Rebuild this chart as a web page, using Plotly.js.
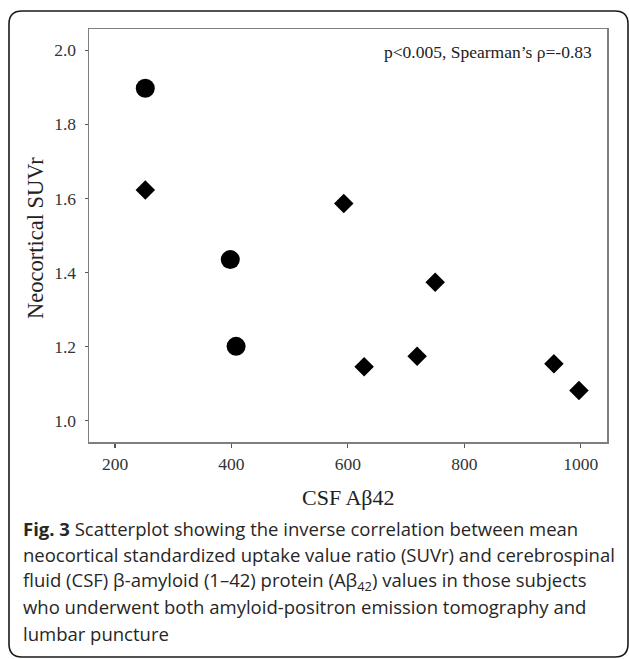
<!DOCTYPE html>
<html>
<head>
<meta charset="utf-8">
<script src="https://cdn.plot.ly/plotly-3.0.1.min.js"></script>
<style>
  html, body { margin: 0; padding: 0; background: #ffffff; }
  #chart { width: 629px; height: 659px; }
</style>
</head>
<body>
<div id="chart"></div>
<script>
// ---- data ----
const circleX = [252, 398, 408];
const circleY = [1.897, 1.435, 1.201];
const diamondX = [252, 593, 628, 719, 750, 954, 997];
const diamondY = [1.623, 1.586, 1.146, 1.174, 1.374, 1.154, 1.082];
const xTicks = [200, 400, 600, 800, 1000];
const yTicks = [1.0, 1.2, 1.4, 1.6, 1.8, 2.0];
const statText = "p<0.005, Spearman’s ρ=-0.83";
const xTitle = "CSF Aβ42";
const yTitle = "Neocortical SUVr";
const captionLines = [
  "<b>Fig. 3</b> Scatterplot showing the inverse correlation between mean",
  "neocortical standardized uptake value ratio (SUVr) and cerebrospinal",
  "fluid (CSF) β-amyloid (1–42) protein (Aβ<sub>42</sub>) values in those subjects",
  "who underwent both amyloid-positron emission tomography and",
  "lumbar puncture"
];

// ---- geometry ----
const W = 629, H = 659;
const L = 89, R = 607, T = 29, B = 442;
const pw = R - L, ph = B - T;
const px = x => (x - L) / pw;
const py = y => (B - y) / ph;

const serif = "Liberation Serif, Times New Roman, serif";
const sans = "Open Sans, Noto Sans, sans-serif";

const traces = [
  { type: 'scatter', mode: 'markers', x: circleX, y: circleY,
    marker: { symbol: 'circle', size: 19, color: '#000000' }, hoverinfo: 'x+y' },
  { type: 'scatter', mode: 'markers', x: diamondX, y: diamondY,
    marker: { symbol: 'diamond', size: 15, color: '#000000' }, hoverinfo: 'x+y' }
];

// rounded outer frame
function roundedPath(x0, y0, x1, y1, r) {
  const X = v => px(v), Y = v => py(v);
  return `M ${X(x0 + r)} ${Y(y0)} L ${X(x1 - r)} ${Y(y0)} Q ${X(x1)} ${Y(y0)} ${X(x1)} ${Y(y0 + r)} ` +
         `L ${X(x1)} ${Y(y1 - r)} Q ${X(x1)} ${Y(y1)} ${X(x1 - r)} ${Y(y1)} ` +
         `L ${X(x0 + r)} ${Y(y1)} Q ${X(x0)} ${Y(y1)} ${X(x0)} ${Y(y1 - r)} ` +
         `L ${X(x0)} ${Y(y0 + r)} Q ${X(x0)} ${Y(y0)} ${X(x0 + r)} ${Y(y0)} Z`;
}

const annotations = [
  { xref: 'paper', yref: 'paper', x: px(594), y: py(52), xanchor: 'right', yanchor: 'middle',
    text: statText, showarrow: false, font: { family: serif, size: 17.5, color: '#222222' } },
  { xref: 'paper', yref: 'paper', x: px(348), y: py(497), xanchor: 'center', yanchor: 'middle',
    text: xTitle, showarrow: false, font: { family: serif, size: 22, color: '#222222' } },
  { xref: 'paper', yref: 'paper', x: px(36), y: py(238), xanchor: 'center', yanchor: 'middle',
    text: yTitle, textangle: -90, showarrow: false, font: { family: serif, size: 22.5, color: '#222222' } }
];
const capTop = 528, capStep = 26.3;
captionLines.forEach((t, i) => {
  annotations.push({ xref: 'paper', yref: 'paper', x: px(21), y: py(capTop + i * capStep),
    xanchor: 'left', yanchor: 'middle', text: t, showarrow: false, align: 'left',
    font: { family: sans, size: 18.5, color: '#262626' } });
});

const layout = {
  width: W, height: H,
  margin: { l: L, r: W - R, t: T, b: H - B, pad: 0 },
  paper_bgcolor: '#ffffff', plot_bgcolor: '#ffffff',
  showlegend: false,
  xaxis: {
    range: [155.3, 1045.2], tickvals: xTicks, ticktext: xTicks.map(String),
    showgrid: false, zeroline: false, showline: true, mirror: true,
    linecolor: '#7f7f7f', linewidth: 1.5, ticks: 'outside', ticklen: 4, tickwidth: 1.2,
    tickcolor: '#555555', tickfont: { family: serif, size: 17.5, color: '#333333' },
    ticklabelstandoff: 1
  },
  yaxis: {
    range: [0.943, 2.057], tickvals: yTicks, ticktext: yTicks.map(v => v.toFixed(1)),
    showgrid: false, zeroline: false, showline: true, mirror: true,
    linecolor: '#7f7f7f', linewidth: 1.5, ticks: 'outside', ticklen: 3, tickwidth: 1.2,
    tickcolor: '#555555', tickfont: { family: serif, size: 17.5, color: '#333333' },
    ticklabelstandoff: 5
  },
  shapes: [
    { type: 'path', xref: 'paper', yref: 'paper', path: roundedPath(9, 11, 628, 657, 13),
      line: { color: '#1a1a1a', width: 1.6 }, fillcolor: 'rgba(0,0,0,0)', layer: 'below' }
  ],
  annotations: annotations
};

Plotly.newPlot('chart', traces, layout, { staticPlot: true, displayModeBar: false });
</script>
</body>
</html>
